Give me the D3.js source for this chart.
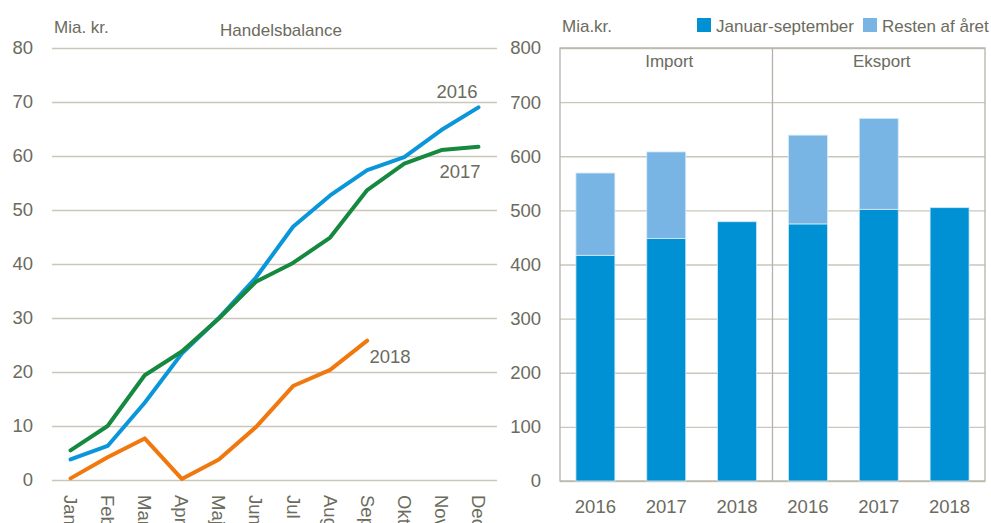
<!DOCTYPE html>
<html>
<head>
<meta charset="utf-8">
<script src="https://cdn.jsdelivr.net/npm/d3@7"></script>
<style>
  body { margin: 0; background: #fff; }
  svg text { font-family: "Liberation Sans", Arial, sans-serif; fill: #6b6b5e; }
</style>
</head>
<body>
<div id="chart"></div>
<script>
const months = ["Jan", "Feb", "Mar", "Apr", "Maj", "Jun", "Jul", "Aug", "Sep", "Okt", "Nov", "Dec"];
const balance2016 = [3.8, 6.3, 14.3, 23.4, 30.0, 37.5, 46.9, 52.7, 57.4, 59.8, 64.8, 69.0];
const balance2017 = [5.5, 10.0, 19.4, 23.8, 29.9, 36.7, 40.2, 44.9, 53.7, 58.6, 61.1, 61.7];
const balance2018 = [0.3, 4.2, 7.7, 0.2, 3.8, 9.8, 17.4, 20.4, 25.8];
const years = ["2016", "2017", "2018"];
const groups = ["Import", "Eksport"];
const janSep = { Import: [417, 448, 479], Eksport: [475, 502, 505] };
const restOfYear = { Import: [152, 160, 0], Eksport: [164, 168, 0] };
const legendLabels = ["Januar-september", "Resten af året"];

const W = 991, H = 523;
const grid = "#c9c7bb";
const tickSize = "18.5px", labelSize = "17px";
const svg = d3.select("#chart").append("svg").attr("width", W).attr("height", H);

// ---- left: Handelsbalance
const L = { left: 52, right: 497, top: 48, bottom: 480 };
const x = d3.scaleBand().domain(months).range([L.left, L.right]);
const y = d3.scaleLinear().domain([0, 80]).range([L.bottom, L.top]);

const gy = svg.append("g")
  .attr("transform", `translate(${L.left},0)`)
  .call(d3.axisLeft(y).tickValues(d3.range(0, 81, 10)).tickSize(-(L.right - L.left)).tickPadding(19));
gy.select(".domain").remove();
gy.selectAll("line").attr("stroke", grid).attr("stroke-width", 1.3);
gy.selectAll("text").style("font-size", tickSize).attr("fill", "#6b6b5e");

const gx = svg.append("g")
  .attr("transform", `translate(0,${L.bottom})`)
  .call(d3.axisBottom(x).tickSize(0).tickPadding(0));
gx.select(".domain").remove();
gx.selectAll("text")
  .style("font-size", tickSize)
  .attr("fill", "#6b6b5e")
  .attr("text-anchor", "start")
  .attr("dy", "0.35em")
  .attr("transform", "translate(0,15) rotate(90)");

const line = d3.line().x((d, i) => x(months[i]) + x.bandwidth() / 2).y(d => y(d));
const series = [
  { vals: balance2016, color: "#0a96d8", label: "2016", lx: 457, ly: 98 },
  { vals: balance2017, color: "#15893f", label: "2017", lx: 460, ly: 178 },
  { vals: balance2018, color: "#f0780f", label: "2018", lx: 390, ly: 363 }
];
series.forEach(s => {
  svg.append("path").datum(s.vals)
    .attr("fill", "none").attr("stroke", s.color).attr("stroke-width", 4)
    .attr("stroke-linejoin", "round").attr("stroke-linecap", "round")
    .attr("d", line);
  svg.append("text").attr("x", s.lx).attr("y", s.ly).attr("text-anchor", "middle")
    .style("font-size", tickSize).text(s.label);
});

svg.append("text").attr("x", 54).attr("y", 33).style("font-size", labelSize).text("Mia. kr.");
svg.append("text").attr("x", 281).attr("y", 36).attr("text-anchor", "middle").style("font-size", labelSize).text("Handelsbalance");

// ---- right: Import / Eksport
const R = { left: 560, right: 985, top: 48, bottom: 481 };
const xg = d3.scaleBand().domain(groups).range([R.left, R.right]);
const xy = d3.scaleBand().domain(years).range([0, xg.bandwidth()]).paddingInner(0.45).paddingOuter(0.225);
const y2 = d3.scaleLinear().domain([0, 800]).range([R.bottom, R.top]);

const gy2 = svg.append("g")
  .attr("transform", `translate(${R.left},0)`)
  .call(d3.axisLeft(y2).tickValues(d3.range(0, 801, 100)).tickSize(-(R.right - R.left)).tickPadding(19));
gy2.select(".domain").remove();
gy2.selectAll("line").attr("stroke", grid).attr("stroke-width", 1.3);
gy2.selectAll("text").style("font-size", tickSize).attr("fill", "#6b6b5e");

// frame and group divider
svg.append("rect").attr("x", R.left).attr("y", R.top).attr("width", R.right - R.left).attr("height", R.bottom - R.top)
  .attr("fill", "none").attr("stroke", "#b5b3a6").attr("stroke-width", 1.3);
svg.append("line").attr("x1", xg("Eksport")).attr("x2", xg("Eksport")).attr("y1", R.top).attr("y2", R.bottom)
  .attr("stroke", "#b5b3a6").attr("stroke-width", 1.3);

const colors = ["#0090d4", "#78b5e4"];
groups.forEach(g => {
  const gg = svg.append("g").attr("transform", `translate(${xg(g)},0)`);
  const stacked = years.map((yr, i) => ({ yr, a: janSep[g][i], b: restOfYear[g][i] }));
  gg.selectAll("rect.a").data(stacked).enter().append("rect")
    .attr("x", d => xy(d.yr)).attr("width", xy.bandwidth())
    .attr("y", d => y2(d.a)).attr("height", d => y2(0) - y2(d.a))
    .attr("fill", colors[0]).attr("stroke", "#cfe8f7").attr("stroke-width", 0.8);
  gg.selectAll("rect.b").data(stacked.filter(d => d.b > 0)).enter().append("rect")
    .attr("x", d => xy(d.yr)).attr("width", xy.bandwidth())
    .attr("y", d => y2(d.a + d.b)).attr("height", d => y2(d.a) - y2(d.a + d.b))
    .attr("fill", colors[1]).attr("stroke", "#d6eaf8").attr("stroke-width", 0.8);
  gg.selectAll("text.yr").data(years).enter().append("text")
    .attr("x", d => xy(d) + xy.bandwidth() / 2).attr("y", 513).attr("text-anchor", "middle")
    .style("font-size", tickSize).text(d => d);
  gg.append("text").attr("x", xg.bandwidth() / 2 + 3).attr("y", 67).attr("text-anchor", "middle")
    .style("font-size", labelSize).text(g);
});

svg.append("text").attr("x", 562).attr("y", 32).style("font-size", labelSize).text("Mia.kr.");
const legX = [697, 863];
legendLabels.forEach((t, i) => {
  svg.append("rect").attr("x", legX[i]).attr("y", 18).attr("width", 14).attr("height", 14).attr("fill", colors[i]);
  svg.append("text").attr("x", legX[i] + 19).attr("y", 32).style("font-size", labelSize).text(t);
});
</script>
</body>
</html>
